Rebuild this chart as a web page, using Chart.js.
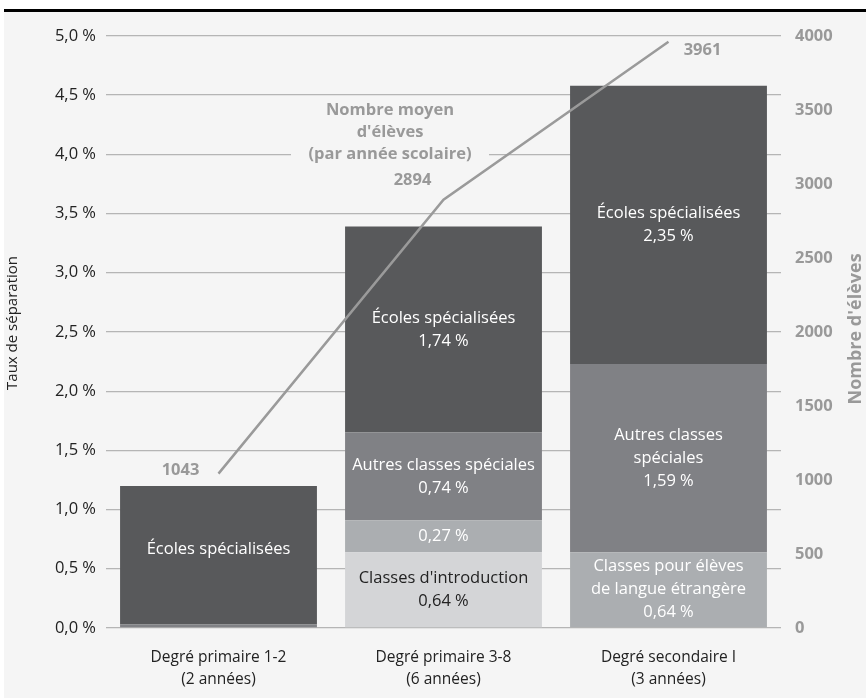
<!DOCTYPE html>
<html>
<head>
<meta charset="utf-8">
<title>Taux de séparation</title>
<script src="https://cdn.jsdelivr.net/npm/chart.js@4.4.1/dist/chart.umd.min.js"></script>
<style>
  body { margin: 0; background: #fff; }
  #frame {
    position: absolute; left: 4px; top: 9px;
    width: 862px; height: 686px;
    border-top: 3px solid #000;
    background: #f5f5f5;
  }
  canvas { display: block; }
</style>
</head>
<body>
<div id="frame"><canvas id="myChart" width="862" height="686"></canvas></div>
<script>
  // categories and values
  const categories = [
    ['Degré primaire 1-2', '(2 années)'],
    ['Degré primaire 3-8', '(6 années)'],
    ['Degré secondaire I', '(3 années)']
  ];
  const introValues  = [0, 0.64, 0];       // Classes d'introduction
  const langueValues = [0, 0.27, 0.64];    // Classes pour élèves de langue étrangère
  const autresValues = [0.03, 0.74, 1.59]; // Autres classes spéciales
  const ecolesValues = [1.17, 1.74, 2.35]; // Écoles spécialisées
  const eleves = [1043, 2894, 3961];       // Nombre moyen d'élèves

  // text shown inside each segment (null = nothing), value appended when showValue
  const introText  = [null, ["Classes d'introduction"], null];
  const langueText = [null, [], ['Classes pour élèves', 'de langue étrangère']];
  const autresText = [null, ['Autres classes spéciales'], ['Autres classes', 'spéciales']];
  const ecolesText = [['Écoles spécialisées'], ['Écoles spécialisées'], ['Écoles spécialisées']];
  const showValue  = [false, true, true];

  const leftTicks = { min: 0, max: 5, step: 0.5 };
  const rightTicks = { min: 0, max: 4000, step: 500 };
  const annotation = ['Nombre moyen', "d'élèves", '(par année scolaire)'];

  const FONT = "'Open Sans', sans-serif";
  const BG = '#f5f5f5';

  function pct(v, d) {
    return v.toFixed(d).replace('.', ',') + ' %';
  }

  const segmentLabels = {
    id: 'segmentLabels',
    afterDatasetsDraw(chart) {
      const ctx = chart.ctx;
      ctx.save();
      ctx.font = '16.5px ' + FONT;
      ctx.textAlign = 'center';
      ctx.textBaseline = 'middle';
      chart.data.datasets.forEach((ds, i) => {
        if (!ds.segText) return;
        const meta = chart.getDatasetMeta(i);
        meta.data.forEach((el, j) => {
          const t = ds.segText[j];
          if (!t) return;
          const lines = t.slice();
          if (showValue[j]) lines.push(pct(ds.data[j], 2));
          const cy = (el.y + el.base) / 2 - (showValue[j] ? 0 : 6);
          const lh = 23;
          ctx.fillStyle = ds.textColor;
          lines.forEach((s, k) => {
            ctx.fillText(s, el.x, cy + (k - (lines.length - 1) / 2) * lh);
          });
        });
      });
      ctx.restore();
    }
  };

  const extras = {
    id: 'extras',
    afterDraw(chart) {
      const ctx = chart.ctx;
      const a = chart.chartArea;
      ctx.save();
      // line value labels
      const lineIdx = chart.data.datasets.findIndex(d => d.type === 'line');
      const pts = chart.getDatasetMeta(lineIdx).data;
      const offs = [[-38, -3], [-31, -19], [34, 9]];
      ctx.font = 'bold 16.5px ' + FONT;
      ctx.fillStyle = '#999999';
      ctx.textAlign = 'center';
      ctx.textBaseline = 'middle';
      pts.forEach((p, i) => {
        ctx.fillText(String(eleves[i]), p.x + offs[i][0], p.y + offs[i][1]);
      });
      // annotation with background box
      const ax = a.left + 284, ay = a.top + 74;
      ctx.fillStyle = BG;
      ctx.fillRect(ax - 99, ay - 12, 198, 64);
      ctx.fillStyle = '#999999';
      annotation.forEach((s, k) => ctx.fillText(s, ax, ay + k * 22));
      // axis titles
      ctx.save();
      ctx.translate(9, (a.top + a.bottom) / 2 - 9);
      ctx.rotate(-Math.PI / 2);
      ctx.font = '15px ' + FONT;
      ctx.fillStyle = '#222';
      ctx.fillText('Taux de séparation', 0, 0);
      ctx.restore();
      ctx.save();
      ctx.translate(852, (a.top + a.bottom) / 2 - 3);
      ctx.rotate(-Math.PI / 2);
      ctx.font = 'bold 18px ' + FONT;
      ctx.fillStyle = '#999999';
      ctx.fillText("Nombre d'élèves", 0, 0);
      ctx.restore();
      ctx.restore();
    }
  };

  const barCommon = { barPercentage: 0.875, categoryPercentage: 1, borderWidth: 0, order: 2, yAxisID: 'y' };

  new Chart('myChart', {
    data: {
      labels: categories,
      datasets: [
        { type: 'line', label: "Nombre moyen d'élèves", data: eleves, yAxisID: 'y2',
          borderColor: '#9a9a9a', borderWidth: 2.5, pointRadius: 0, tension: 0, order: 0 },
        Object.assign({ type: 'bar', label: "Classes d'introduction", data: introValues,
          backgroundColor: '#d4d5d7', segText: introText, textColor: '#222' }, barCommon),
        Object.assign({ type: 'bar', label: 'Classes pour élèves de langue étrangère', data: langueValues,
          backgroundColor: '#abaeb1', segText: langueText, textColor: '#fff' }, barCommon),
        Object.assign({ type: 'bar', label: 'Autres classes spéciales', data: autresValues,
          backgroundColor: '#808185', segText: autresText, textColor: '#fff' }, barCommon),
        Object.assign({ type: 'bar', label: 'Écoles spécialisées', data: ecolesValues,
          backgroundColor: '#58595b', segText: ecolesText, textColor: '#fff' }, barCommon)
      ]
    },
    options: {
      responsive: false,
      animation: false,
      layout: { padding: { top: 23, left: 0, right: 0, bottom: 0 } },
      plugins: { legend: { display: false }, tooltip: { enabled: false } },
      scales: {
        x: {
          stacked: true,
          grid: { display: false, drawTicks: false },
          border: { display: false },
          ticks: { color: '#222', font: { family: FONT, size: 15.5, lineHeight: 1.42 }, padding: 19, maxRotation: 0 },
          afterFit(s) { s.height = 70; }
        },
        y: {
          stacked: true,
          position: 'left',
          min: leftTicks.min, max: leftTicks.max,
          grid: { color: '#b5b5b5', lineWidth: 1.3, drawTicks: false },
          border: { display: false },
          ticks: { stepSize: leftTicks.step, color: '#222', padding: 10,
            font: { family: FONT, size: 16.5 }, callback: v => pct(v, 1) },
          afterFit(s) { s.width = 102; }
        },
        y2: {
          position: 'right',
          min: rightTicks.min, max: rightTicks.max,
          grid: { drawOnChartArea: false, drawTicks: false },
          border: { display: false },
          ticks: { stepSize: rightTicks.step, color: '#999999', padding: 14,
            font: { family: FONT, size: 16.5, weight: 'bold' }, callback: v => String(v) },
          afterFit(s) { s.width = 85; }
        }
      }
    },
    plugins: [segmentLabels, extras]
  });
</script>
</body>
</html>
